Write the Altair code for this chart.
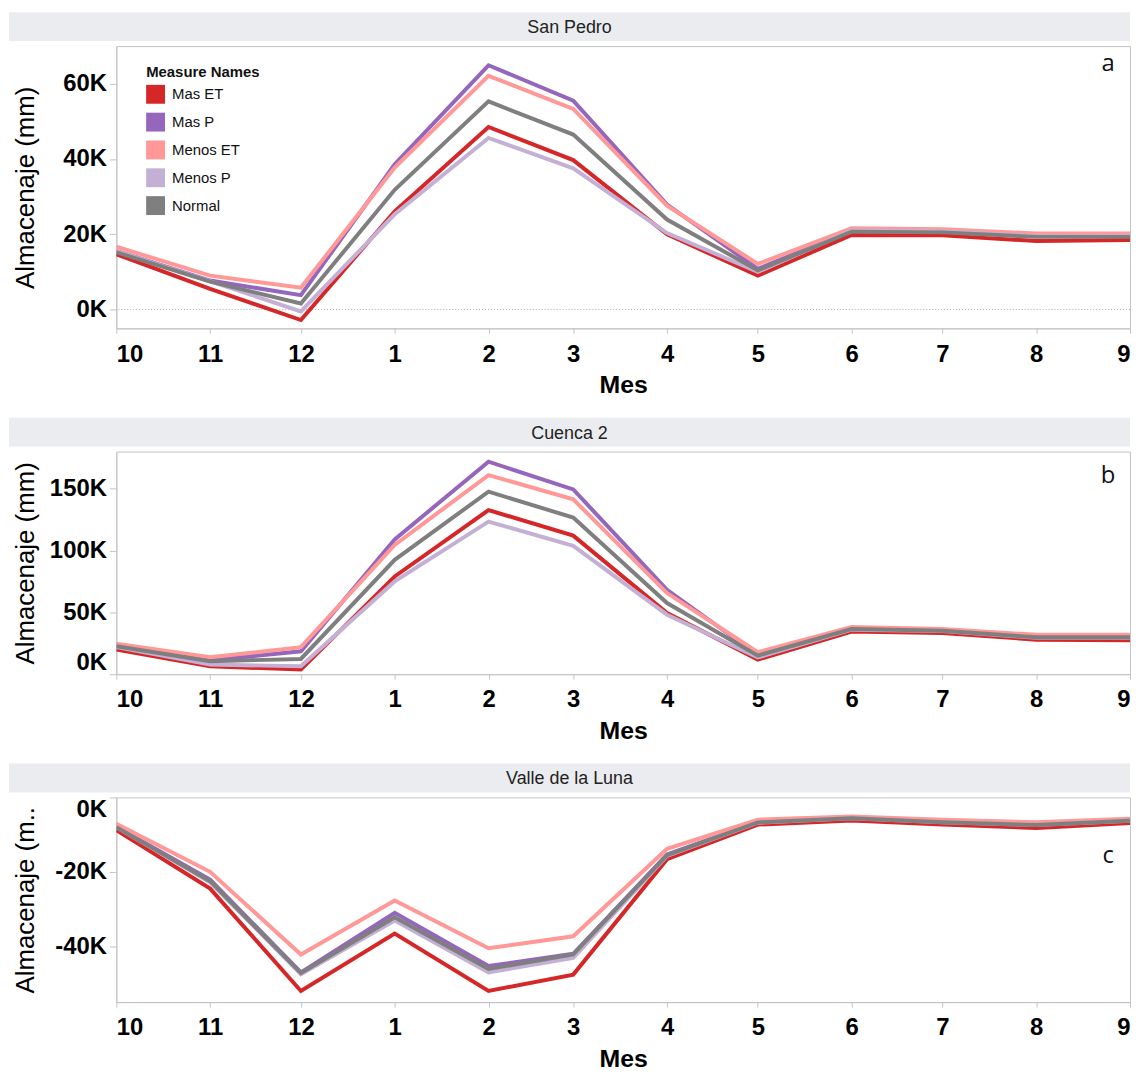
import altair as alt
import pandas as pd

# ---------------- data ----------------
meses = ["2018-10-01", "2018-11-01", "2018-12-01", "2019-01-01", "2019-02-01", "2019-03-01",
         "2019-04-01", "2019-05-01", "2019-06-01", "2019-07-01", "2019-08-01", "2019-09-01"]
series = ["Mas ET", "Mas P", "Menos ET", "Menos P", "Normal"]
colores = ["#d62728", "#9467bd", "#ff9896", "#c5b0d5", "#7f7f7f"]

# San Pedro (mm)
sp_mas_et = [14700, 5500, -2800, 26100, 48500, 39700, 20000, 9000, 19800, 19700, 18200, 18500]
sp_mas_p = [15600, 7700, 3800, 38600, 64900, 55500, 27900, 10800, 21000, 20800, 19600, 19600]
sp_menos_et = [16700, 9000, 5800, 37700, 62100, 53300, 27600, 12100, 21600, 21300, 20200, 20200]
sp_menos_p = [15500, 7500, -500, 25300, 45600, 37500, 20300, 10000, 21000, 20800, 19500, 19500]
sp_normal = [15200, 7400, 1600, 31800, 55300, 46500, 23900, 10400, 20700, 20500, 19300, 19300]

# Cuenca 2 (mm)
c2_mas_et = [19900, 6400, 3700, 79000, 132700, 112000, 49400, 11800, 34400, 33300, 27900, 27400]
c2_mas_p = [23000, 11300, 18500, 109000, 171800, 149400, 68200, 15500, 37000, 35800, 30800, 30800]
c2_menos_et = [24700, 13700, 21800, 104500, 161000, 141400, 65600, 17700, 38100, 36500, 31900, 31900]
c2_menos_p = [22000, 7800, 6400, 75000, 123400, 103700, 48100, 13500, 36000, 34800, 29500, 29500]
c2_normal = [22600, 10500, 12300, 92500, 147600, 126600, 57500, 15000, 36500, 35200, 29800, 29800]

# Valle de la Luna (mm)
vl_mas_et = [-8800, -24500, -52000, -36600, -52000, -47600, -16600, -7300, -6200, -7300, -8200, -6900]
vl_mas_p = [-7900, -22100, -47000, -31000, -45300, -42000, -15300, -6600, -5500, -6600, -7300, -6200]
vl_menos_et = [-7100, -20000, -42200, -27700, -40500, -37300, -13800, -6000, -5100, -6000, -6700, -5700]
vl_menos_p = [-8000, -22800, -47500, -33100, -47000, -43100, -15700, -6800, -5600, -6700, -7400, -6300]
vl_normal = [-8000, -22500, -47200, -32200, -46100, -42200, -15500, -6700, -5600, -6700, -7400, -6300]

paneles = ["San Pedro", "Cuenca 2", "Valle de la Luna"]
letras = ["a", "b", "c"]


def build_df(listas):
    rows = []
    for s, vals in zip(series, listas):
        for m, v in zip(meses, vals):
            rows.append({"fecha": m, "serie": s, "valor": v})
    return pd.DataFrame(rows)


def dt(s):
    y, m, d = s.split("-")
    return alt.DateTime(year=int(y), month=int(m), date=int(d), utc=True)


x_values = [dt(m) for m in meses]
x_domain = [dt(meses[0]), dt(meses[-1])]

FONT = "Liberation Sans"
W = 1020

legend = alt.Legend(
    title="Measure Names", orient="none", legendX=30, legendY=19,
    symbolType="square", symbolSize=361, symbolStrokeWidth=0, symbolOpacity=1,
    labelFont=FONT, labelFontSize=15, labelColor="#111", labelOffset=7,
    titleFont=FONT, titleFontSize=15, titleFontWeight="bold", titleColor="#111",
    titlePadding=5, rowPadding=9, padding=0, offset=0,
)

color_scale = alt.Scale(domain=series, range=colores)


def panel(df, titulo, letra, letra_y, height, domain, ticks, ytitle, zero_line=False, with_legend=False):
    x_enc = alt.X("fecha:T",
                  scale=alt.Scale(type="utc", domain=x_domain, nice=False),
                  axis=alt.Axis(values=x_values, labelExpr="utcFormat(datum.value, '%-m')", title="Mes"))
    y_enc = alt.Y("valor:Q",
                  scale=alt.Scale(domain=domain, nice=False, zero=False),
                  axis=alt.Axis(values=ticks, labelExpr="(datum.value/1000) + 'K'",
                                title=ytitle, titleY=height / 2))
    base = alt.Chart(df)
    lines = base.mark_line(strokeWidth=4, clip=True).encode(
        x=x_enc, y=y_enc,
        color=alt.Color("serie:N", scale=color_scale, legend=None),
    )
    layers = []
    if zero_line:
        zl = alt.Chart(pd.DataFrame({"valor": [0]})).mark_rule(
            color="#aaaaaa", strokeWidth=1, strokeDash=[1, 2]).encode(y="valor:Q")
        layers.append(zl)
    if with_legend:
        pts = base.mark_point(shape="square", filled=True, size=0, opacity=1).encode(
            x=x_enc, y=y_enc,
            color=alt.Color("serie:N", scale=color_scale, legend=legend),
        )
        layers.append(pts)
    layers.append(lines)
    hdr = alt.Chart(pd.DataFrame({"t": [titulo]}))
    bar = hdr.mark_rect(color="#ebecef").encode(
        x=alt.value(-108), x2=alt.value(W), y=alt.value(-34), y2=alt.value(-5))
    txt = hdr.mark_text(font=FONT, fontSize=18, color="#222", baseline="alphabetic", align="center").encode(
        x=alt.value(456), y=alt.value(-13), text="t:N")
    let = alt.Chart(pd.DataFrame({"t": [letra]})).mark_text(
        font="Open Sans", fontSize=24, color="#111", baseline="alphabetic", align="center").encode(
        x=alt.value(998), y=alt.value(letra_y), text="t:N")
    return alt.layer(bar, txt, *layers, let).properties(width=W, height=height)


pa = panel(build_df([sp_mas_et, sp_mas_p, sp_menos_et, sp_menos_p, sp_normal]),
           paneles[0], letras[0], 25, 284, [-5000, 70000], [0, 20000, 40000, 60000],
           "Almacenaje (mm)", zero_line=True, with_legend=True)
pb = panel(build_df([c2_mas_et, c2_mas_p, c2_menos_et, c2_menos_p, c2_normal]),
           paneles[1], letras[1], 32, 224, [0, 180000], [0, 50000, 100000, 150000],
           "Almacenaje (mm)")
pc = panel(build_df([vl_mas_et, vl_mas_p, vl_menos_et, vl_menos_p, vl_normal]),
           paneles[2], letras[2], 66, 206, [-55000, 0], [-40000, -20000, 0],
           "Almacenaje (m..")

chart = alt.vconcat(pa, pb, pc, spacing=18, padding=0, background="white").configure_view(
    stroke="#c4c4c4", strokeWidth=1
).configure_axisX(
    labelFont=FONT, labelFontSize=24, labelFontWeight="bold", labelColor="#000",
    labelFlush=True, labelPadding=9, tickSize=5, tickColor="#c4c4c4", domainColor="#c4c4c4",
    grid=False, titleFont=FONT, titleFontSize=25, titleFontWeight="bold", titleColor="#000",
    titleY=65, titleBaseline="alphabetic",
).configure_axisY(
    labelFont=FONT, labelFontSize=24, labelFontWeight="bold", labelColor="#000",
    labelFlush=True, labelPadding=3, tickSize=7, tickColor="#c4c4c4", domainColor="#c4c4c4",
    grid=False, titleFont=FONT, titleFontSize=26, titleFontWeight="normal", titleColor="#000",
    titleX=-83, titleBaseline="alphabetic", titleAngle=-90, titleAlign="center",
)

chart.save("out.html", embed_options={"renderer": "svg", "actions": False})
